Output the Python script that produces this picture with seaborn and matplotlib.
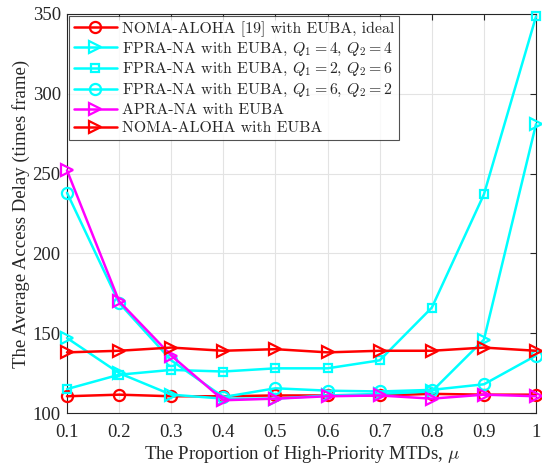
import numpy as np
import pandas as pd
import matplotlib
matplotlib.use("Agg")
import matplotlib.pyplot as plt
import seaborn as sns

# Proportion of high-priority MTDs
mu = [0.1, 0.2, 0.3, 0.4, 0.5, 0.6, 0.7, 0.8, 0.9, 1.0]

# Average access delay (frames) for each scheme
noma_aloha_ideal = [110.5, 111.5, 110.5, 110.5, 111, 111, 111, 112, 111.5, 111.5]
fpra_q44 = [147, 125, 111.5, 109, 109, 111, 112, 113.5, 146, 281]
fpra_q26 = [115, 124, 127, 126, 128, 128, 133, 166, 237, 348.5]
fpra_q62 = [238, 169, 133, 110, 115.5, 114, 113.5, 114.5, 118, 136]
apra_na = [252, 170, 136, 108, 109, 110.5, 111, 109, 111.5, 110.5]
noma_aloha = [138, 139, 141, 139, 140, 138, 139, 139, 141, 139]

series_labels = [
    "NOMA-ALOHA [19] with EUBA, ideal",
    r"FPRA-NA with EUBA, $Q_1 = 4$, $Q_2 = 4$",
    r"FPRA-NA with EUBA, $Q_1 = 2$, $Q_2 = 6$",
    r"FPRA-NA with EUBA, $Q_1 = 6$, $Q_2 = 2$",
    "APRA-NA with EUBA",
    "NOMA-ALOHA with EUBA",
]
series_values = [noma_aloha_ideal, fpra_q44, fpra_q26, fpra_q62, apra_na, noma_aloha]
series_colors = ["#ff0000", "#00ffff", "#00ffff", "#00ffff", "#ff00ff", "#ff0000"]
series_markers = ["o", ">", "s", "o", ">", ">"]
series_msize = [8, 9, 6, 8, 9, 9]

x_ticks = [0.1, 0.2, 0.3, 0.4, 0.5, 0.6, 0.7, 0.8, 0.9, 1.0]
x_ticklabels = ["0.1", "0.2", "0.3", "0.4", "0.5", "0.6", "0.7", "0.8", "0.9", "1"]
y_ticks = [100, 150, 200, 250, 300, 350]

sns.set_theme(style="whitegrid")
plt.rcParams["font.family"] = ["Liberation Serif", "DejaVu Serif"]
plt.rcParams["mathtext.fontset"] = "cm"

fig = plt.figure(figsize=(5.42, 4.66), dpi=100)
ax = fig.add_axes([0.1236, 0.1137, 0.8654, 0.8563])

for label, vals, col, mk, ms in zip(series_labels, series_values, series_colors,
                                    series_markers, series_msize):
    df = pd.DataFrame({"mu": mu, "delay": vals})
    sns.lineplot(data=df, x="mu", y="delay", ax=ax, color=col, linewidth=1.8,
                 marker=mk, markersize=ms, markerfacecolor="none",
                 markeredgecolor=col, markeredgewidth=1.6, label=label,
                 clip_on=False, zorder=3)

ax.set_xlim(0.1, 1.0)
ax.set_ylim(100, 350)
ax.set_xticks(x_ticks)
ax.set_xticklabels(x_ticklabels)
ax.set_yticks(y_ticks)

axis_col = "#262626"
ax.set_facecolor("white")
for sp in ax.spines.values():
    sp.set_color(axis_col)
    sp.set_linewidth(0.8)
    sp.set_visible(True)
ax.grid(True, color="#e3e3e3", linewidth=0.8)
ax.tick_params(direction="in", top=True, right=True, length=4, width=0.8,
               color=axis_col, labelcolor=axis_col, labelsize=13.5)
ax.tick_params(axis="x", pad=8)
ax.tick_params(axis="y", pad=4.5)

ax.set_xlabel(r"The Proportion of High-Priority MTDs, $\mu$", fontsize=13.5,
              color=axis_col, labelpad=1)
ax.set_ylabel("The Average Access Delay (times frame)", fontsize=13.5,
              color=axis_col, labelpad=2)

leg = ax.legend(loc="upper left", prop={"family": "cmr10", "size": 11.4},
                frameon=True, fancybox=False, edgecolor=axis_col,
                handlelength=2.7, handletextpad=0.3, labelspacing=0.24,
                borderaxespad=0.15, borderpad=0.3)
leg.get_frame().set_linewidth(0.8)
leg.set_zorder(5)

fig.savefig("out.png", dpi=100, facecolor="white")
